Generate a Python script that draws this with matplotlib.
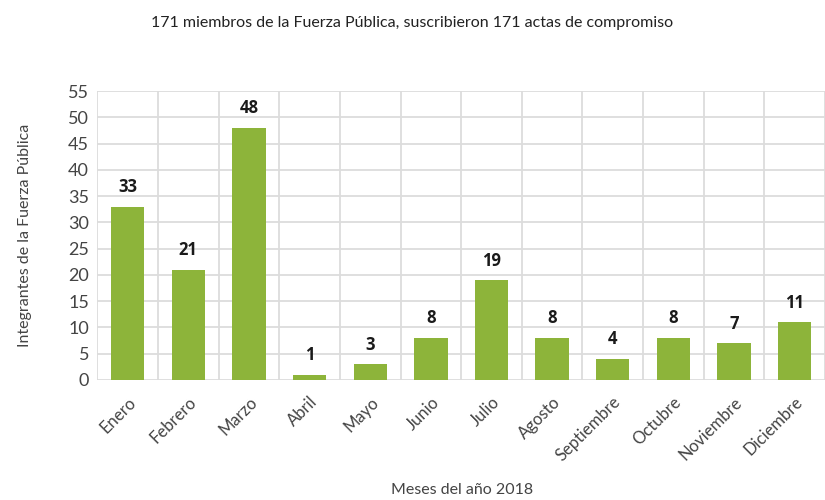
import matplotlib.pyplot as plt
import numpy as np

meses = ["Enero", "Febrero", "Marzo", "Abril", "Mayo", "Junio", "Julio",
         "Agosto", "Septiembre", "Octubre", "Noviembre", "Diciembre"]
integrantes = [33, 21, 48, 1, 3, 8, 19, 8, 4, 8, 7, 11]
yticks = list(range(0, 60, 5))

plt.rcParams['font.family'] = ['Lato', 'DejaVu Sans']

fig = plt.figure(figsize=(8.25, 5), dpi=100)
ax = fig.add_axes([0.118, 0.24, 0.882, 0.578])

x = np.arange(len(meses))
ax.bar(x, integrantes, width=0.55, color="#8db43a", zorder=3)

for xi, v in zip(x, integrantes):
    ax.text(xi, v + 2.0, str(v), ha="center", va="bottom", fontsize=12,
            fontweight="bold", color="#1a1a1a", family=["Open Sans", "DejaVu Sans"])

ax.set_xlim(-0.5, len(meses) - 0.5)
ax.set_ylim(0, 55)
ax.set_yticks(yticks)
ax.set_yticklabels([str(t) for t in yticks], fontsize=13, color="#444444")
ax.set_xticks(x)
ax.set_xticklabels(meses, rotation=45, ha="right", rotation_mode="anchor",
                   fontsize=12, color="#444444")

# rejilla entre meses
ax.set_xticks(np.arange(-0.5, len(meses), 1), minor=True)
ax.grid(which="minor", axis="x", color="#dcdcdc", linewidth=1.3, zorder=0)
ax.grid(which="major", axis="y", color="#dcdcdc", linewidth=1.3, zorder=0)
ax.tick_params(which="both", length=0)
ax.tick_params(axis="x", pad=10)
ax.tick_params(axis="y", pad=6)
for s in ax.spines.values():
    s.set_visible(False)

ax.set_ylabel("Integrantes de la Fuerza Pública", fontsize=11.5, color="#444444", labelpad=26)
fig.text(0.56, 0.02, "Meses del año 2018", ha="center", va="center",
         fontsize=11.5, color="#444444")
fig.text(0.5, 0.955, "171 miembros de la Fuerza Pública, suscribieron 171 actas de compromiso",
         ha="center", va="center", fontsize=11.5, color="#222222")

plt.savefig("out.png", dpi=100)
